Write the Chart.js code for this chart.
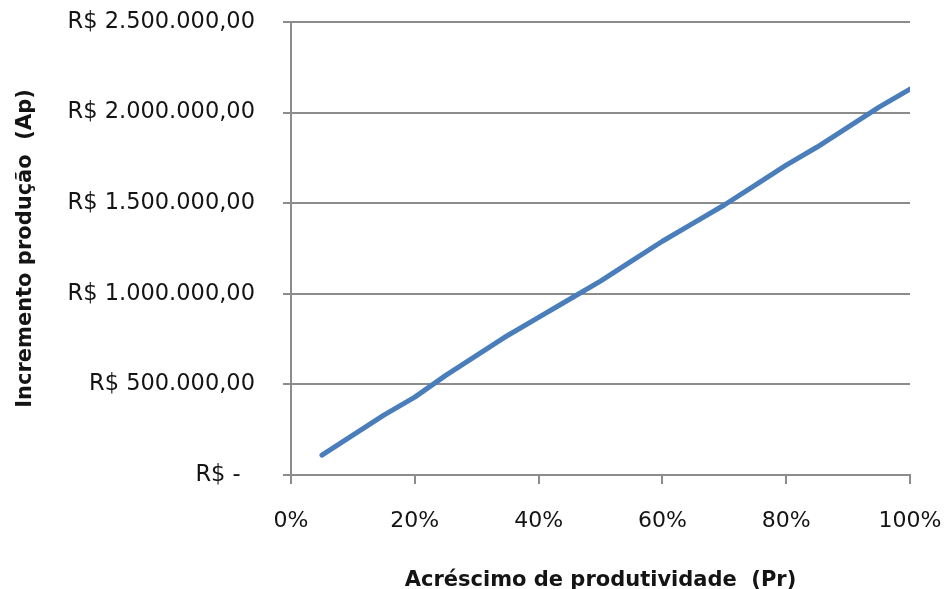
<!DOCTYPE html>
<html lang="pt-BR">
<head>
  <meta charset="UTF-8" />
  <title>Incremento produção</title>
  <script src="https://cdn.jsdelivr.net/npm/chart.js"></script>
  <style>
    html, body { margin: 0; padding: 0; background: #fff; }
    #wrap { width: 946px; height: 589px; }
  </style>
</head>
<body>
  <div id="wrap"><canvas id="chart" width="946" height="589"></canvas></div>

  <script>
    // Acréscimo de produtividade (%), eixo x
    const produtividade = [5, 10, 15, 20, 25, 30, 35, 40, 45, 50, 55, 60, 65, 70, 75, 80, 85, 90, 95, 100];
    // Incremento produção (R$), eixo y
    const incremento = [110000, 220000, 330000, 430000, 550000, 660000, 770000, 870000, 970000, 1070000,
                        1180000, 1290000, 1390000, 1490000, 1600000, 1710000, 1810000, 1920000, 2030000, 2130000];
    const xTicks = [0, 20, 40, 60, 80, 100];
    const yTicks = [0, 500000, 1000000, 1500000, 2000000, 2500000];

    const tituloX = 'Acréscimo de produtividade  (Pr)';
    const tituloY = 'Incremento produção  (Ap)';

    // formato contábil do Excel
    function reais(v) {
      if (v === 0) return 'R$ -  ';
      const s = String(Math.round(v)).replace(/\B(?=(\d{3})+(?!\d))/g, '.');
      return 'R$ ' + s + ',00';
    }

    const cinza = '#8c8c8c';
    const texto = '#141414';

    const ctx = document.getElementById('chart').getContext('2d');
    const chart = new Chart(ctx, {
      type: 'line',
      data: {
        datasets: [{
          label: 'Incremento',
          data: produtividade.map((p, i) => ({ x: p, y: incremento[i] })),
          borderColor: '#4A7EBB',
          borderWidth: 5,
          borderCapStyle: 'round',
          borderJoinStyle: 'round',
          pointRadius: 0,
          tension: 0,
          fill: false
        }]
      },
      options: {
        responsive: false,
        animation: false,
        layout: { padding: { top: 22, right: 36, left: 0, bottom: 0 } },
        plugins: { legend: { display: false }, tooltip: { enabled: false } },
        scales: {
          x: {
            type: 'linear',
            min: 0, max: 100,
            afterBuildTicks: s => { s.ticks = xTicks.map(v => ({ value: v })); },
            afterFit: s => { s.height = 114; s.paddingLeft = 0; s.paddingRight = 0; },
            ticks: {
              callback: v => v + '%',
              color: texto,
              font: { family: 'DejaVu Sans', size: 22 },
              padding: 24,
              maxRotation: 0
            },
            grid: { drawOnChartArea: false, drawTicks: true, tickLength: 9, color: cinza, lineWidth: 2 },
            border: { display: true, color: cinza, width: 2 },
            title: {
              display: true,
              text: tituloX,
              color: texto,
              font: { family: 'DejaVu Sans', size: 21, weight: 'bold' },
              padding: { top: 0, bottom: -4 }
            }
          },
          y: {
            min: 0, max: 2500000,
            afterBuildTicks: s => { s.ticks = yTicks.map(v => ({ value: v })); },
            afterFit: s => { s.width = 291; s.paddingTop = 0; s.paddingBottom = 0; },
            ticks: {
              callback: v => reais(v),
              color: texto,
              font: { family: 'DejaVu Sans', size: 22.5 },
              padding: 28
            },
            grid: { drawTicks: true, tickLength: 8, color: cinza, lineWidth: 2 },
            border: { display: true, color: cinza, width: 2 },
            title: {
              display: true,
              text: tituloY,
              color: texto,
              font: { family: 'DejaVu Sans', size: 21, weight: 'bold' },
              padding: { top: 13, bottom: 0 }
            }
          }
        }
      }
    });
  </script>
</body>
</html>
